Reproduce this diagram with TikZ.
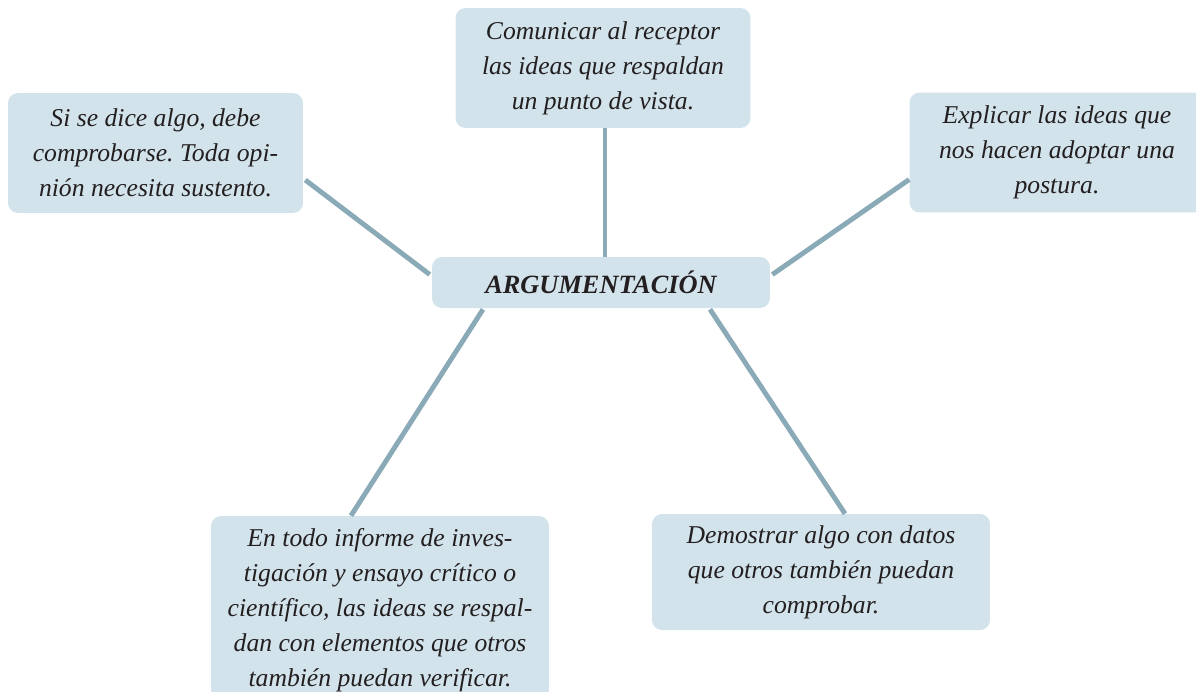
\documentclass[tikz,border=0pt]{standalone}
\usepackage{fontspec}
\setmainfont{Liberation Serif}
\usepackage{xcolor}
\usetikzlibrary{positioning,calc}
\definecolor{BoxBlue}{RGB}{210,227,235}
\definecolor{LineBlue}{RGB}{138,170,184}
\definecolor{InkBlack}{RGB}{35,31,32}
\frenchspacing
\tikzset{
    ideabox/.style={rectangle, rounded corners=0.2cm, fill=BoxBlue, text=InkBlack, align=center, inner sep=0pt, font=\fontsize{14.6}{20}\selectfont\itshape}
}
\begin{document}
\begin{tikzpicture}[
        x=0.02cm, y=-0.02cm,
        % --- STYLE CHUNG ---
        widebox/.style={ideabox, minimum width=6.76cm},
        narrowbox/.style={ideabox, minimum width=5.9cm, minimum height=2.4cm},
        % Style đường nối
        link/.style={draw=LineBlue, line width=2.8pt}
    ]
        \useasboundingbox (0,0) rectangle (1196,691);

        % --- NÚT TRUNG TÂM ---
        \node[widebox, minimum height=1.02cm, font=\fontsize{15}{20}\selectfont\bfseries\itshape] (arg) at (601,282.5) {ARGUMENTACIÓN};

        % --- CÁC Ý XUNG QUANH ---
        \node[narrowbox] (recep) at (603,68) {Comunicar al receptor\\las ideas que respaldan\\un punto de vista.};
        \node[narrowbox] (sust) at (155.5,153) {Si se dice algo, debe\\comprobarse. Toda opi-\\nión necesita sustento.};
        \node[narrowbox] (post) at (1057,152.5) {Explicar las ideas que\\nos hacen adoptar una\\postura.};
        \node[widebox, minimum height=3.76cm] (infor) at (380,610) {En todo informe de inves-\\tigación y ensayo crítico o\\científico, las ideas se respal-\\dan con elementos que otros\\también puedan verificar.};
        \node[widebox, minimum height=2.32cm] (datos) at (821,572) {Demostrar algo con datos\\que otros también puedan\\comprobar.};

        % --- ĐƯỜNG NỐI ---
        \draw[link] ($(recep.south)+(2,0)$) -- ($(arg.north)+(4,0)$);
        \draw[link] ($(sust.east)+(2,27)$) -- ($(arg.west)+(-2,-8)$);
        \draw[link] ($(arg.east)+(2,-8)$) -- ($(post.west)+(0,27)$);
        \draw[link] ($(arg.south)+(-118,1)$) -- ($(infor.north)+(-29,0)$);
        \draw[link] ($(arg.south)+(109,1)$) -- ($(datos.north)+(24,0)$);

    \end{tikzpicture}
\end{document}
